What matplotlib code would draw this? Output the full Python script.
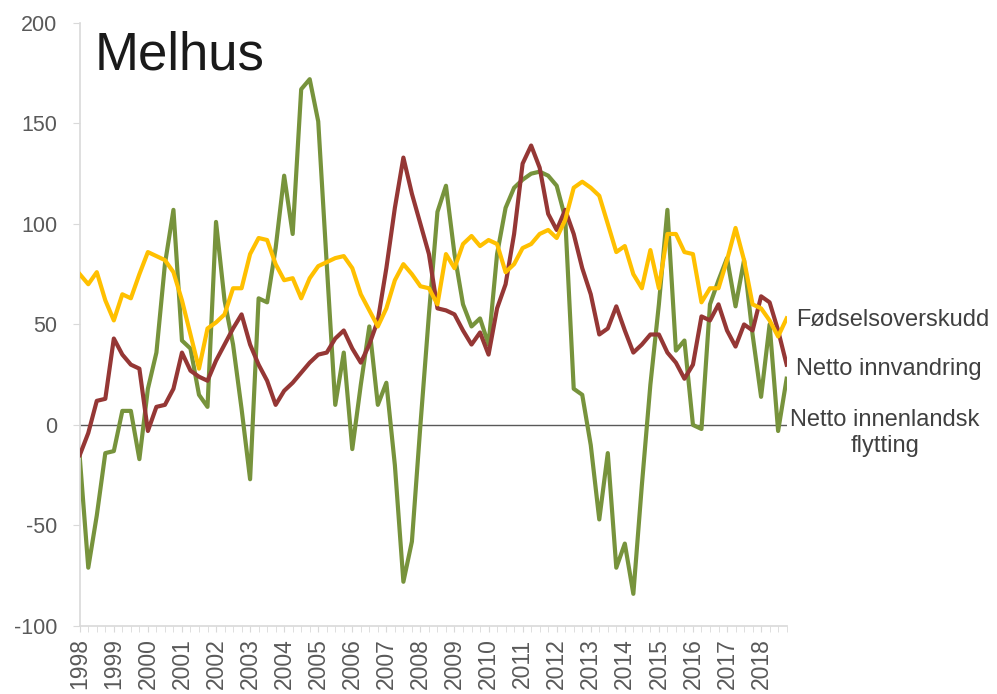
import matplotlib.pyplot as plt
import numpy as np

plt.rcParams['font.family'] = ['Liberation Sans', 'DejaVu Sans']
plt.rcParams['axes.unicode_minus'] = False

# quarterly values 1998K1 - 2018K4
years = list(range(1998, 2019))

innenlandsk = [-16, -71, -45, -14, -13, 7, 7, -17, 18, 36, 80, 107,
               42, 38, 15, 9, 101, 62, 40, 8, -27, 63, 61, 88,
               124, 95, 167, 172, 151, 80, 10, 36, -12, 20, 49, 10,
               21, -20, -78, -58, 0, 55, 106, 119, 85, 60, 49, 53,
               40, 85, 108, 118, 122, 125, 126, 124, 119, 103, 18, 15,
               -10, -47, -14, -71, -59, -84, -30, 20, 60, 107, 37, 42,
               0, -2, 60, 72, 83, 59, 82, 45, 14, 50, -3, 23]

innvandring = [-15, -4, 12, 13, 43, 35, 30, 28, -3, 9, 10, 18,
               36, 27, 24, 22, 32, 40, 48, 55, 40, 30, 22, 10,
               17, 21, 26, 31, 35, 36, 43, 47, 38, 31, 40, 52,
               78, 108, 133, 115, 100, 85, 58, 57, 55, 47, 40, 46,
               35, 58, 70, 95, 130, 139, 128, 105, 97, 107, 95, 78,
               65, 45, 48, 59, 47, 36, 40, 45, 45, 36, 31, 23,
               30, 54, 52, 60, 47, 39, 50, 47, 64, 61, 47, 30]

fodsel = [75, 70, 76, 62, 52, 65, 63, 75, 86, 84, 82, 76,
          62, 45, 28, 48, 51, 55, 68, 68, 85, 93, 92, 80,
          72, 73, 63, 73, 79, 81, 83, 84, 78, 65, 57, 49,
          58, 72, 80, 75, 69, 68, 60, 85, 78, 90, 94, 89,
          92, 90, 76, 80, 88, 90, 95, 97, 93, 102, 118, 121,
          118, 114, 100, 86, 89, 75, 68, 87, 68, 95, 95, 86,
          85, 61, 68, 68, 82, 98, 82, 60, 58, 52, 44, 53]

x = np.arange(len(fodsel))

fig = plt.figure(figsize=(9.97, 6.94), dpi=100)
ax = fig.add_axes([0.080, 0.098, 0.709, 0.869])

ax.axhline(0, color='#595959', lw=1, zorder=1)
ax.plot(x, innenlandsk, color='#77933c', lw=3, zorder=2)
ax.plot(x, innvandring, color='#953735', lw=3, zorder=3)
ax.plot(x, fodsel, color='#ffc000', lw=3, zorder=4)

ax.set_xlim(0, len(x) - 1)
ax.set_ylim(-100, 200)
ax.set_yticks(range(-100, 201, 50))
ax.set_xticks(x[::4])
ax.set_xticklabels([str(y) for y in years], rotation=90)
ax.set_xticks(x, minor=True)

for s in ['top', 'right']:
    ax.spines[s].set_visible(False)
for s in ['left', 'bottom']:
    ax.spines[s].set_color('#d9d9d9')
    ax.spines[s].set_linewidth(1.2)

ax.tick_params(axis='y', colors='#d9d9d9', labelcolor='#595959',
               labelsize=15.5, length=5, pad=11)
ax.tick_params(axis='x', which='both', colors='#d9d9d9', labelcolor='#595959',
               labelsize=16.5, length=4, pad=5)

ax.text(0.021, 0.988, 'Melhus', transform=ax.transAxes, fontsize=38,
        color='#1a1a1a', va='top', ha='left')

tkw = dict(fontsize=17, color='#404040', clip_on=False)
ax.text(84.1, 52, 'Fødselsoverskudd', va='center', ha='left', **tkw)
ax.text(84.1, 28, 'Netto innvandring', va='center', ha='left', **tkw)
ax.text(94.5, -4, 'Netto innenlandsk\nflytting', va='center', ha='center',
        linespacing=1.2, **tkw)

fig.savefig('out.png', dpi=100)
